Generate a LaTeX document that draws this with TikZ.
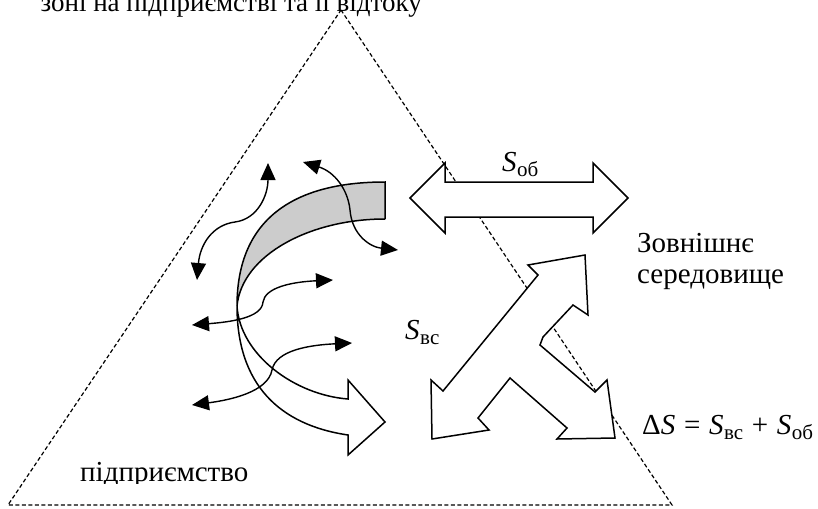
\documentclass[tikz,border=0pt]{standalone}
\usepackage{fontspec}
\setmainfont{Liberation Serif}
\usetikzlibrary{arrows.meta}
\newcommand{\Sx}[1]{\textit{S}\kern0.5pt\raisebox{-0.2em}{\fontsize{21}{21}\selectfont #1}}
\newcommand{\rel}[1]{\hspace{0.3em}#1\hspace{0.3em}}
\begin{document}
\begin{tikzpicture}[x=1pt,y=-1pt,
  txt/.style={inner sep=0pt,font=\fontsize{29}{33}\selectfont},
  ttl/.style={inner sep=0pt,font=\fontsize{27}{31}\selectfont},
  dashtri/.style={draw=black,line width=1.2pt,dash pattern=on 4pt off 2.5pt},
  blk/.style={draw=black,line width=1.5pt,fill=white,line join=miter},
  band/.style={draw=black,line width=1.5pt},
  wavy/.style={draw=black,line width=1.4pt,{Triangle[length=17pt,width=15pt]}-{Triangle[length=17pt,width=15pt]}}]
\useasboundingbox (0,0) rectangle (818,508);
\clip (0,0) rectangle (818,508);
\fill[white] (0,0) rectangle (818,508);

% top caption (cut)
\node[ttl,anchor=base east] (title) at (422,12) {зоні на підприємстві та її відтоку};

% dashed triangle
\coordinate (apex) at (341,10);
\coordinate (bl) at (8,505);
\coordinate (br) at (672,505);
\draw[dashtri] (apex) -- (br) -- (bl) -- cycle;

% horizontal double arrow S_ob
\draw[blk] (410,198) -- (445,163) -- (445,182) -- (593,182) -- (593,163) -- (628,198)
  -- (593,233) -- (593,217) -- (445,217) -- (445,233) -- cycle;

% three-headed arrow
\draw[blk] (528,265) -- (585,255) -- (588,315) -- (573,305) -- (543,337) -- (540,345)
  -- (595,392) -- (607,380) -- (615,438) -- (557,439) -- (567,428) -- (510,378)
  -- (478,418) -- (489,430) -- (432,439) -- (431,380) -- (443,391) -- (538,275) -- cycle;

% curved band arrow
\fill[gray!40] (385,182) .. controls (295,182) and (237,218) .. (237,306)
  .. controls (242,255) and (310,219) .. (385,219) -- cycle;
\draw[band] (385,219) -- (385,182) .. controls (295,182) and (237,218) .. (237,306)
  .. controls (237,385) and (280,425) .. (348,435) -- (348,455) -- (385,422) -- (348,380) -- (348,399)
  .. controls (295,395) and (240,355) .. (237,306)
  .. controls (242,255) and (310,219) .. (385,219);

% wavy double arrows
\coordinate (w1a) at (197,280); \coordinate (w1b) at (268,163);
\coordinate (w2a) at (303,162); \coordinate (w2b) at (398,250);
\coordinate (w3a) at (192,325); \coordinate (w3b) at (333,280);
\coordinate (w4a) at (192,405); \coordinate (w4b) at (352,343);
\draw[wavy] (w1a) .. controls (200,245) and (212,225) .. (235,222)
  .. controls (258,219) and (268,195) .. (w1b);
\draw[wavy] (w2a) .. controls (335,172) and (348,190) .. (350,210)
  .. controls (352,235) and (370,247) .. (w2b);
\draw[wavy] (w3a) .. controls (230,322) and (262,318) .. (263,302)
  .. controls (265,288) and (290,282) .. (w3b);
\draw[wavy] (w4a) .. controls (230,400) and (268,392) .. (272,370)
  .. controls (276,350) and (310,345) .. (w4b);

% labels
\node[txt,anchor=base west] (sob) at (502,171) {\Sx{об}};
\node[txt,anchor=base west] (zovn) at (637,252) {Зовнішнє};
\node[txt,anchor=base west] (sered) at (637,283) {середовище};
\node[txt,anchor=base west] (svs) at (405,339) {\Sx{вс}};
\node[txt,anchor=base west] (delta) at (642,434) {Δ\textit{S}\rel{=}\Sx{вс}\rel{+}\Sx{об}};
\node[txt,anchor=base west] (pidpr) at (80,481) {підприємство};
\fill[white] (70,483.5) rectangle (260,498);
\end{tikzpicture}
\end{document}
